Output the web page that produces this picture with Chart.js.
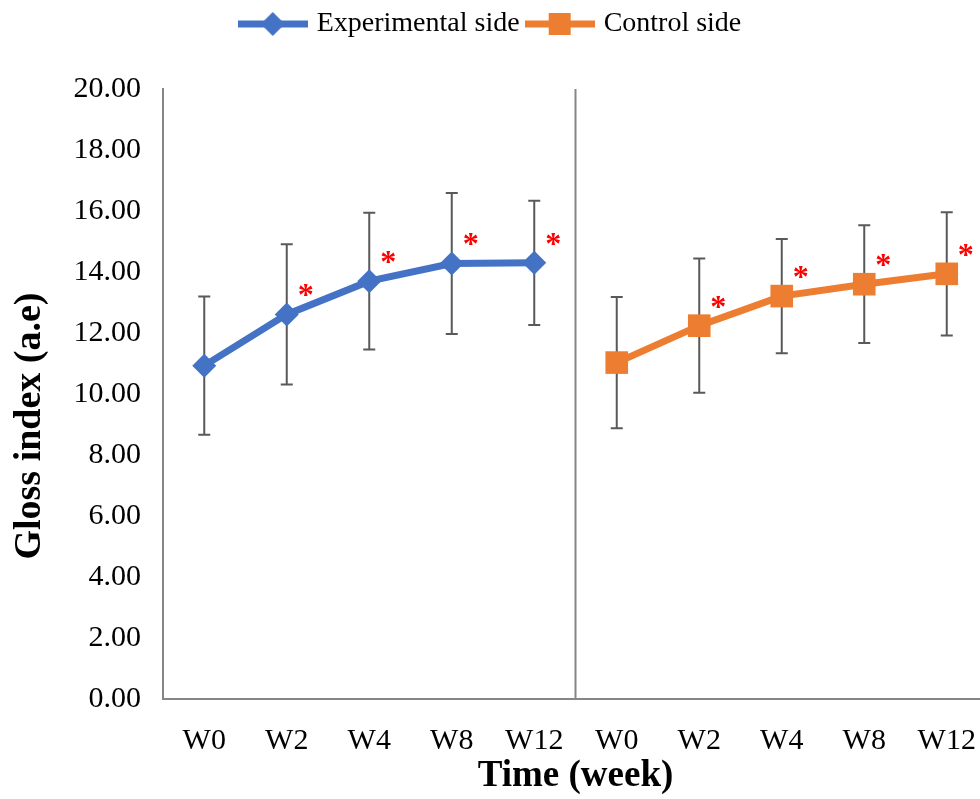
<!DOCTYPE html>
<html>
<head>
<meta charset="utf-8">
<title>Gloss index</title>
<script src="https://cdn.jsdelivr.net/npm/chart.js@4.4.1/dist/chart.umd.min.js"></script>
<style>
  html, body { margin: 0; padding: 0; background: #fff; overflow: hidden; }
  #wrap { width: 1004px; height: 799px; }
</style>
</head>
<body>
<div id="wrap"><canvas id="gloss" width="1004" height="799"></canvas></div>
<script>
var weeks = ['W0', 'W2', 'W4', 'W8', 'W12'];
var expMean = [10.93, 12.61, 13.70, 14.28, 14.30];
var expSd = [2.27, 2.30, 2.24, 2.31, 2.04];
var ctrlMean = [11.03, 12.24, 13.21, 13.60, 13.94];
var ctrlSd = [2.15, 2.20, 1.87, 1.93, 2.02];
var sigMark = [false, true, true, true, true];
var yTitle = 'Gloss index (a.e)';

var blue = '#4472C4';
var orange = '#ED7D31';
var axisGray = '#868686';
var serif = '"Liberation Serif", "Times New Roman", serif';

// both sides share one category axis: first 5 = experimental, last 5 = control
var labels = weeks.concat(weeks);
var blank = weeks.map(function() { return null; });
var expData = expMean.concat(blank);
var ctrlData = blank.concat(ctrlMean);
var expErr = expSd.concat(blank);
var ctrlErr = blank.concat(ctrlSd);
var sigAll = sigMark.concat(sigMark);

Chart.defaults.font.family = serif;
Chart.defaults.color = '#000';

function legendIcon(color, shape) {
    var c = document.createElement('canvas');
    c.width = 70;
    c.height = 26;
    var g = c.getContext('2d');
    g.strokeStyle = color;
    g.lineWidth = 7;
    g.beginPath();
    g.moveTo(0, 13);
    g.lineTo(70, 13);
    g.stroke();
    g.fillStyle = color;
    g.beginPath();
    if (shape == 'diamond') {
        g.moveTo(35, 1);
        g.lineTo(47, 13);
        g.lineTo(35, 25);
        g.lineTo(23, 13);
        g.closePath();
        g.fill();
    } else {
        g.fillRect(24, 2, 22, 22);
    }
    return c;
}
var icons = [legendIcon(blue, 'diamond'), legendIcon(orange, 'square')];

var legendSpace = {
    id: 'legendSpace',
    beforeInit: function(chart) {
        var fit = chart.legend.fit;
        chart.legend.fit = function() {
            fit.bind(chart.legend)();
            this.height = 89;
        };
    },
    afterLayout: function(chart) {
        // the canvas is a bit wider than the window, keep the legend centred on the visible part
        var lg = chart.legend;
        var shift = 492 - (lg.left + lg.right) / 2;
        lg.left += shift;
        lg.right += shift;
    }
};

var errorBars = {
    id: 'errorBars',
    beforeDatasetsDraw: function(chart) {
        var ctx = chart.ctx;
        var x = chart.scales.x, y = chart.scales.y;
        var sets = [[expData, expErr], [ctrlData, ctrlErr]];
        ctx.save();
        ctx.strokeStyle = '#595959';
        ctx.lineWidth = 2;
        sets.forEach(function(s) {
            for (var i = 0; i < s[0].length; i++) {
                if (s[0][i] === null) continue;
                var px = x.getPixelForValue(i);
                var top = y.getPixelForValue(s[0][i] + s[1][i]);
                var bot = y.getPixelForValue(s[0][i] - s[1][i]);
                ctx.beginPath();
                ctx.moveTo(px, top); ctx.lineTo(px, bot);
                ctx.moveTo(px - 6, top); ctx.lineTo(px + 6, top);
                ctx.moveTo(px - 6, bot); ctx.lineTo(px + 6, bot);
                ctx.stroke();
            }
        });
        ctx.restore();
    },
    afterDatasetsDraw: function(chart) {
        var ctx = chart.ctx;
        var x = chart.scales.x, y = chart.scales.y, area = chart.chartArea;
        ctx.save();
        // divider between the two sides
        var mid = x.getPixelForValue(4.5);
        ctx.strokeStyle = axisGray;
        ctx.lineWidth = 2;
        ctx.beginPath();
        ctx.moveTo(mid, area.top);
        ctx.lineTo(mid, area.bottom);
        ctx.stroke();
        // significance stars
        ctx.fillStyle = '#ff0000';
        ctx.font = 'bold 32px ' + serif;
        ctx.textAlign = 'center';
        ctx.textBaseline = 'alphabetic';
        for (var i = 0; i < labels.length; i++) {
            if (!sigAll[i]) continue;
            var v = expData[i] !== null ? expData[i] : ctrlData[i];
            ctx.fillText('*', x.getPixelForValue(i) + 19, y.getPixelForValue(v) - 9);
        }
        // y title sits a bit below the middle of the axis in the original
        ctx.fillStyle = '#000';
        ctx.font = 'bold 38px ' + serif;
        ctx.translate(30, (area.top + area.bottom) / 2 + 32);
        ctx.rotate(-Math.PI / 2);
        ctx.textBaseline = 'middle';
        ctx.fillText(yTitle, 0, 0);
        ctx.restore();
    }
};

var ctx = document.getElementById('gloss').getContext('2d');
new Chart(ctx, {
    type: 'line',
    data: {
        labels: labels,
        datasets: [{
            label: 'Experimental side',
            data: expData,
            borderColor: blue,
            backgroundColor: blue,
            borderWidth: 7,
            pointStyle: 'rectRot',
            pointRadius: 12,
            pointBorderWidth: 0,
            tension: 0
        }, {
            label: 'Control side',
            data: ctrlData,
            borderColor: orange,
            backgroundColor: orange,
            borderWidth: 7,
            pointStyle: 'rect',
            pointRadius: 16,
            pointBorderWidth: 0,
            tension: 0
        }]
    },
    options: {
        responsive: false,
        animation: false,
        layout: { padding: { left: 6, right: 3, top: 0, bottom: 4 } },
        plugins: {
            tooltip: { enabled: false },
            legend: {
                position: 'top',
                labels: {
                    usePointStyle: true,
                    pointStyleWidth: 60,
                    padding: 10,
                    font: { size: 28 },
                    color: '#000',
                    generateLabels: function(chart) {
                        var items = Chart.defaults.plugins.legend.labels.generateLabels(chart);
                        items.forEach(function(it, i) { it.pointStyle = icons[i]; });
                        return items;
                    }
                }
            }
        },
        scales: {
            x: {
                offset: true,
                grid: { display: false, drawTicks: false },
                border: { color: axisGray, width: 2 },
                ticks: { font: { size: 30 }, padding: 24, maxRotation: 0, autoSkip: false },
                title: {
                    display: true,
                    text: 'Time (week)',
                    font: { size: 37, weight: 'bold', lineHeight: 1 },
                    padding: { top: 0, bottom: 0 }
                },
                afterFit: function(scale) { scale.height = 96; }
            },
            y: {
                min: 0,
                max: 20,
                grid: { display: false, drawTicks: false },
                border: { color: axisGray, width: 2 },
                ticks: {
                    stepSize: 2,
                    font: { size: 30 },
                    padding: 22,
                    callback: function(v) { return v.toFixed(2); }
                },
                afterFit: function(scale) { scale.width = 157; }
            }
        }
    },
    plugins: [legendSpace, errorBars]
});
</script>
</body>
</html>
